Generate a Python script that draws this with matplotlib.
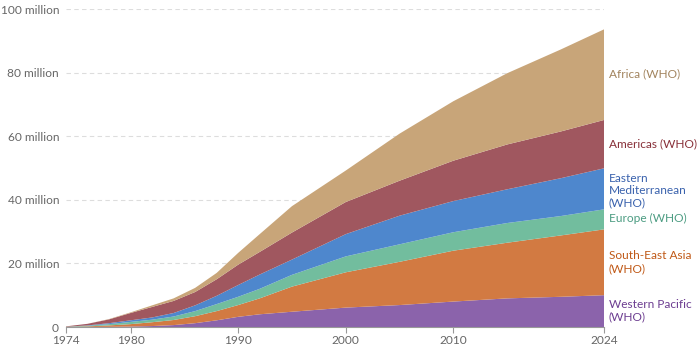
import numpy as np
import matplotlib
matplotlib.use("Agg")
import matplotlib.pyplot as plt

plt.rcParams['font.family'] = ['Lato', 'DejaVu Sans']

# cumulative totals (stack tops, millions)
years = [1974, 1976, 1978, 1980, 1982, 1984, 1986, 1988, 1990, 1992, 1995,
         2000, 2005, 2010, 2015, 2020, 2024]
wp_top = [0.0, 0.02, 0.05, 0.15, 0.3, 0.6, 1.2, 2.1, 3.2, 4.0, 4.8,
          6.1, 6.9, 8.0, 9.0, 9.5, 10.0]
sea_top = [0.05, 0.2, 0.5, 0.9, 1.5, 2.2, 3.4, 5.0, 6.9, 9.0, 12.7,
           17.2, 20.5, 24.0, 26.5, 28.8, 30.7]
eur_top = [0.1, 0.4, 0.9, 1.6, 2.3, 3.3, 5.0, 7.2, 9.5, 12.0, 16.4,
           22.2, 26.0, 29.8, 32.7, 34.9, 37.0]
em_top = [0.1, 0.5, 1.2, 2.1, 3.0, 4.4, 6.8, 9.8, 13.2, 16.5, 21.2,
          29.2, 35.0, 39.6, 43.3, 46.8, 49.9]
am_top = [0.2, 1.0, 2.4, 4.4, 6.3, 8.2, 11.0, 15.0, 19.6, 23.6, 29.7,
          39.3, 46.0, 52.3, 57.4, 61.5, 65.1]
af_top = [0.2, 1.0, 2.5, 4.6, 6.8, 9.0, 12.3, 17.0, 23.3, 29.2, 38.0,
          49.2, 60.8, 71.0, 79.8, 87.3, 93.6]

regions = ["Western Pacific\n(WHO)", "South-East Asia\n(WHO)", "Europe (WHO)",
           "Eastern\nMediterranean\n(WHO)", "Americas (WHO)", "Africa (WHO)"]
fill_colors = ["#8b63ab", "#d27a42", "#72bd9e", "#4e87cd", "#a0575f", "#c8a579"]
text_colors = ["#6d3e91", "#c05917", "#4c9c82", "#3a62ad", "#883039", "#a2845e"]

x_ticks = [1974, 1980, 1990, 2000, 2010, 2024]
y_ticks = [0, 20, 40, 60, 80, 100]

tops = np.array([wp_top, sea_top, eur_top, em_top, am_top, af_top]) * 1e6
layers = np.diff(np.vstack([np.zeros(len(years)), tops]), axis=0)

fig = plt.figure(figsize=(7, 3.49), dpi=100)
ax = fig.add_axes([66 / 700, 22 / 349, 538 / 700, 318 / 349])

ax.stackplot(years, layers, colors=fill_colors, linewidth=0)

ax.set_xlim(1974, 2024)
ax.set_ylim(0, 100e6)

for v in y_ticks[1:]:
    ax.axhline(v * 1e6, color="#dddddd", lw=0.8, ls=(0, (4, 3)), zorder=0)

ax.set_yticks([v * 1e6 for v in y_ticks])
ax.set_yticklabels(["0" if v == 0 else f"{v} million" for v in y_ticks])
ax.set_xticks(x_ticks)
ax.set_xticklabels([str(t) for t in x_ticks])

ax.tick_params(axis="y", length=0, pad=5, labelsize=8.6, labelcolor="#666666")
ax.tick_params(axis="x", length=4, width=0.8, color="#999999", pad=2,
               labelsize=8.6, labelcolor="#666666")

for s in ["top", "right", "left"]:
    ax.spines[s].set_visible(False)
ax.spines["bottom"].set_color("#999999")
ax.spines["bottom"].set_linewidth(0.8)

# right-side labels (y centre in data units)
label_y = [5.0, 20.4, 34.0, 42.8, 57.5, 79.5]
for name, yv, c in zip(regions, label_y, text_colors):
    ax.text(2024.45, yv * 1e6, name, color=c, fontsize=8.6, va="center",
            ha="left", linespacing=1.15, clip_on=False)

fig.savefig("out.png", dpi=100)
